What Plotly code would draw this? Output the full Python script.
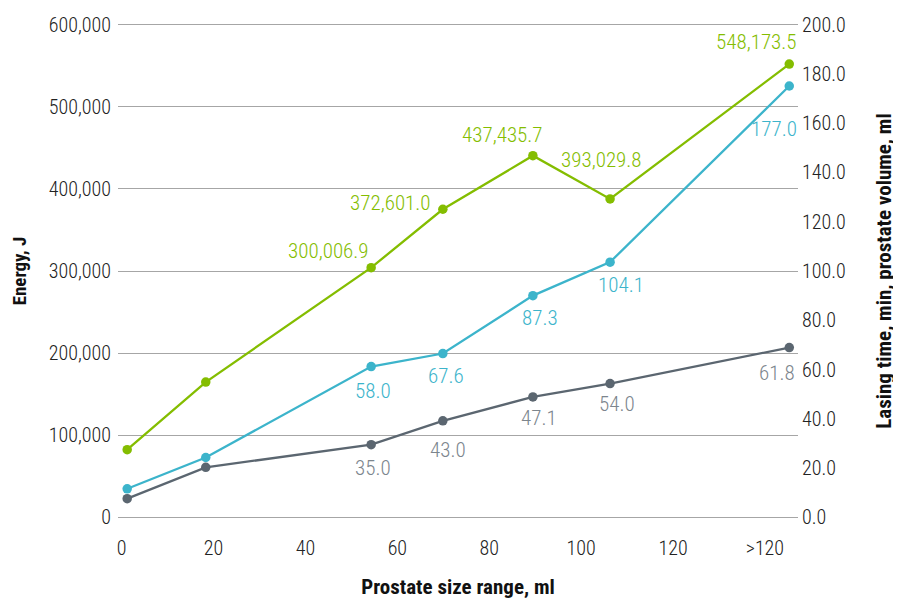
import plotly.graph_objects as go

# x positions (prostate size range, ml)
x_vals = [1.2, 18.3, 54.3, 69.9, 89.5, 106.3, 145.3]
x_tickvals = [0, 20, 40, 60, 80, 100, 120, 140]
x_ticktext = ["0", "20", "40", "60", "80", "100", "120", ">120"]

# Energy, J (left axis)
energy = [82400, 164700, 304100, 375200, 440400, 387700, 552000]
energy_labels = ["", "", "300,006.9", "372,601.0", "437,435.7", "393,029.8", "548,173.5"]

# Blue series (right axis)
blue = [11.6, 24.3, 61.2, 66.5, 90.0, 103.6, 175.1]
blue_labels = ["", "", "58.0", "67.6", "87.3", "104.1", "177.0"]

# Grey series (right axis)
grey = [7.6, 20.3, 29.5, 39.2, 48.9, 54.3, 68.9]
grey_labels = ["", "", "35.0", "43.0", "47.1", "54.0", "61.8"]

left_tickvals = [0, 100000, 200000, 300000, 400000, 500000, 600000]
right_tickvals = [0, 20, 40, 60, 80, 100, 120, 140, 160, 180, 200]

GREEN = "#84bd00"
BLUE = "#3cb4cb"
GREY = "#5b6670"
GREY_TXT = "#7c858d"
FONT = "Roboto Condensed, DejaVu Sans Condensed, sans-serif"

# label offsets (pixels) — styling
green_off = [(0, 0), (0, 0), (-43, 17), (-52, 6), (-30, 21), (-9, 39), (-33, 22)]
blue_off = [(0, 0), (0, 0), (2, -24), (3, -22), (7, -22), (11, -23), (-15, -43)]
grey_off = [(0, 0), (0, 0), (2, -23), (5, -29), (6, -21), (7, -20), (-12, -25)]

fig = go.Figure()
fig.add_trace(go.Scatter(x=x_vals, y=energy, mode="lines+markers",
                         line=dict(color=GREEN, width=2.3),
                         marker=dict(color=GREEN, size=9.5), yaxis="y", cliponaxis=False))
fig.add_trace(go.Scatter(x=x_vals, y=blue, mode="lines+markers",
                         line=dict(color=BLUE, width=2.3),
                         marker=dict(color=BLUE, size=9.5), yaxis="y2", cliponaxis=False))
fig.add_trace(go.Scatter(x=x_vals, y=grey, mode="lines+markers",
                         line=dict(color=GREY, width=2.3),
                         marker=dict(color=GREY, size=9.5), yaxis="y2", cliponaxis=False))

annotations = []
for xs, ys, labels, offs, color, yref in [
    (x_vals, energy, energy_labels, green_off, GREEN, "y"),
    (x_vals, blue, blue_labels, blue_off, BLUE, "y2"),
    (x_vals, grey, grey_labels, grey_off, GREY_TXT, "y2"),
]:
    for xv, yv, lab, (dx, dy) in zip(xs, ys, labels, offs):
        if not lab:
            continue
        annotations.append(dict(x=xv, y=yv, xref="x", yref=yref, text=lab,
                                showarrow=False, xanchor="center", yanchor="middle",
                                xshift=dx, yshift=dy,
                                font=dict(family=FONT, size=21, color=color, weight=300)))

tick_font = dict(family=FONT, size=20, color="#222222", weight=300)

# The page body adds an 8px offset, so the figure is sized to fit the window.
fig.update_layout(
    width=893, height=591,
    margin=dict(l=110, r=103, t=14.5, b=79.5, autoexpand=False),
    paper_bgcolor="white", plot_bgcolor="white",
    showlegend=False,
    font=dict(family=FONT, size=19, color="#222222"),
    annotations=annotations,
    xaxis=dict(range=[-0.8, 147.2], tickvals=x_tickvals, ticktext=x_ticktext,
               showgrid=False, zeroline=False, showline=False, ticks="",
               tickfont=tick_font, automargin=False, ticklabelstandoff=15,
               title=dict(text="Prostate size range, ml", standoff=21,
                          font=dict(family=FONT, size=21, color="#111111", weight=700))),
    yaxis=dict(range=[-2000, 602000], tickvals=left_tickvals, tickformat=",d",
               showgrid=True, gridcolor="#a6a6a6", gridwidth=1.4,
               zeroline=False, showline=False, ticks="", automargin=False,
               tickfont=tick_font, ticklabelstandoff=6,
               title=dict(text="Energy, J", standoff=23,
                          font=dict(family=FONT, size=19, color="#111111", weight=700))),
    yaxis2=dict(range=[-2000 / 3000, 602000 / 3000], tickvals=right_tickvals, tickformat=".1f",
                overlaying="y", side="right", showgrid=False, zeroline=False,
                showline=False, ticks="", automargin=False, ticklabelstandoff=3,
                tickfont=tick_font,
                title=dict(text="Lasing time, min, prostate volume, ml", standoff=31,
                           font=dict(family=FONT, size=21, color="#111111", weight=700))),
)

fig.write_html("out.html")
